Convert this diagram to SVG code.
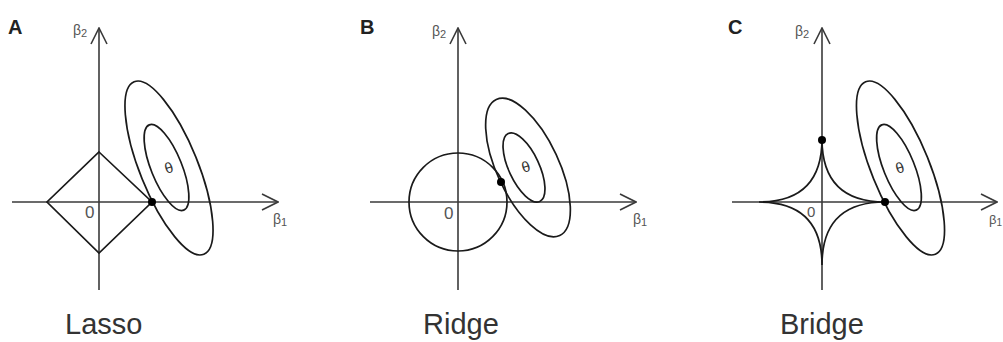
<svg xmlns="http://www.w3.org/2000/svg" width="1003" height="342" viewBox="0 0 1003 342">
<style>
.axis{stroke:#3a3a3a;stroke-width:1.6;fill:none}
.shape{stroke:#1a1a1a;stroke-width:1.7;fill:none}
.dot{fill:#000}
.lab{font-family:"Liberation Sans",Arial,sans-serif;fill:#555}
.panel{font-family:"Liberation Sans",Arial,sans-serif;font-weight:bold;font-size:20px;fill:#222}
.title{font-family:"Liberation Sans",Arial,sans-serif;font-size:29px;fill:#333}
.th{font-family:"Liberation Sans",Arial,sans-serif;font-size:15px;fill:#333}
</style>
<defs>
<marker id="arr" viewBox="0 0 18 20" refX="17" refY="10" markerWidth="18" markerHeight="20" markerUnits="userSpaceOnUse" orient="auto">
<path d="M1,2 L17,10 L1,18" fill="none" stroke="#3a3a3a" stroke-width="1.6"/>
</marker>
</defs>
<g id="connectors">
<line class="axis" x1="99" y1="290" x2="99" y2="28" marker-end="url(#arr)"/>
<line class="axis" x1="12" y1="202" x2="278" y2="202" marker-end="url(#arr)"/>
<line class="axis" x1="458" y1="290" x2="458" y2="28" marker-end="url(#arr)"/>
<line class="axis" x1="370" y1="202" x2="636" y2="202" marker-end="url(#arr)"/>
<line class="axis" x1="822" y1="290" x2="822" y2="28" marker-end="url(#arr)"/>
<line class="axis" x1="732" y1="202" x2="997" y2="202" marker-end="url(#arr)"/>
</g>
<g id="panelA">
<text class="panel" x="8" y="34">A</text>
<text class="lab" x="73" y="35" font-size="14">β<tspan font-size="11" dy="2">2</tspan></text>
<text class="lab" x="273" y="224" font-size="14">β<tspan font-size="11" dy="2">1</tspan></text>
<text class="lab" x="85" y="218" font-size="17">0</text>
<polygon class="shape" points="99,152 152,202 99,253 47,202"/>
<ellipse class="shape" cx="169" cy="168" rx="93" ry="29" transform="rotate(68 169 168)"/>
<ellipse class="shape" cx="166.5" cy="167.5" rx="46" ry="15.4" transform="rotate(68 166.5 167.5)"/>
<text class="th" x="169" y="173" text-anchor="middle" transform="rotate(-18 169 168)">θ</text>
<circle class="dot" cx="152" cy="202" r="4"/>
<text class="title" x="65" y="334">Lasso</text>
</g>
<g id="panelB">
<text class="panel" x="360" y="34">B</text>
<text class="lab" x="432" y="36" font-size="14">β<tspan font-size="11" dy="2">2</tspan></text>
<text class="lab" x="633" y="224" font-size="14">β<tspan font-size="11" dy="2">1</tspan></text>
<text class="lab" x="444" y="219" font-size="17">0</text>
<circle class="shape" cx="458" cy="202" r="49"/>
<ellipse class="shape" cx="528" cy="167.5" rx="75" ry="31" transform="rotate(65 528 167.5)"/>
<ellipse class="shape" cx="524" cy="167.5" rx="37.4" ry="15.2" transform="rotate(65 524 167.5)"/>
<text class="th" x="526" y="172" text-anchor="middle" transform="rotate(-18 526 167)">θ</text>
<circle class="dot" cx="501" cy="182" r="4"/>
<text class="title" x="423" y="334">Ridge</text>
</g>
<g id="panelC">
<text class="panel" x="728" y="34">C</text>
<text class="lab" x="795" y="36" font-size="14">β<tspan font-size="11" dy="2">2</tspan></text>
<text class="lab" x="989" y="224" font-size="13">β<tspan font-size="10" dy="2">1</tspan></text>
<text class="lab" x="807" y="217" font-size="15">0</text>
<path class="shape" d="M885,202 Q822,202 822,139 Q822,202 759,202 Q822,202 822,265 Q822,202 885,202 Z"/>
<ellipse class="shape" cx="900.5" cy="168" rx="93" ry="29" transform="rotate(68 900.5 168)"/>
<ellipse class="shape" cx="899" cy="167.5" rx="46" ry="15.4" transform="rotate(68 899 167.5)"/>
<text class="th" x="900" y="173" text-anchor="middle" transform="rotate(-18 900 168)">θ</text>
<circle class="dot" cx="822" cy="140" r="4"/>
<circle class="dot" cx="885" cy="202" r="4"/>
<text class="title" x="780" y="334">Bridge</text>
</g>
</svg>
